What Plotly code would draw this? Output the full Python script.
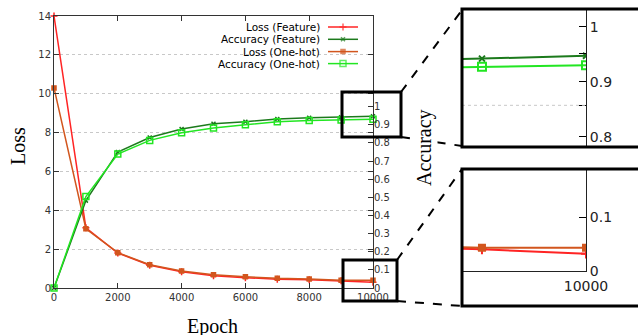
import plotly.graph_objects as go

epochs = [0, 1000, 2000, 3000, 4000, 5000, 6000, 7000, 8000, 9000, 10000]
loss_feature = [14.0, 3.1, 1.8, 1.17, 0.84, 0.63, 0.53, 0.45, 0.42, 0.375, 0.30]
loss_onehot = [10.3, 3.05, 1.82, 1.2, 0.87, 0.68, 0.58, 0.50, 0.46, 0.40, 0.40]
acc_feature = [0.0, 0.482, 0.75, 0.83, 0.877, 0.906, 0.917, 0.932, 0.939, 0.942, 0.947]
acc_onehot = [0.0, 0.504, 0.739, 0.814, 0.856, 0.882, 0.900, 0.917, 0.924, 0.927, 0.930]
series_names = ["Loss (Feature)", "Accuracy (Feature)", "Loss (One-hot)", "Accuracy (One-hot)"]
x_ticks = [0, 2000, 4000, 6000, 8000, 10000]
acc_ticks = [0.0, 0.1, 0.2, 0.3, 0.4, 0.5, 0.6, 0.7, 0.8, 0.9, 1.0]

W, H = 638, 335
RED, DGREEN, ORANGE, LGREEN = "#ff2424", "#1c7a1c", "#d2561e", "#22e622"
AX = "#333333"
TICKFONT = dict(family="DejaVu Sans", size=10, color="#333333")
INSETFONT = dict(family="DejaVu Sans", size=14, color="#222222")
SERIF = dict(family="Liberation Serif", size=20, color="black")


def px(x):
    return x / W


def py(y):
    return 1 - y / H


styles = [
    dict(color=RED, symbol="cross-thin", size=5, lw=1.5),
    dict(color=DGREEN, symbol="x-thin", size=4, lw=1.5),
    dict(color=ORANGE, symbol="square", size=4, lw=1.5),
    dict(color=LGREEN, symbol="square-open", size=6, lw=1.5),
]
data_sets = [loss_feature, acc_feature, loss_onehot, acc_onehot]
main_axes = [("x", "y"), ("x", "y2"), ("x", "y"), ("x", "y2")]

fig = go.Figure()

# main chart
for name, vals, st, (xa, ya) in zip(series_names, data_sets, styles, main_axes):
    fig.add_trace(go.Scatter(
        x=epochs, y=vals, name=name, xaxis=xa, yaxis=ya, mode="lines+markers",
        line=dict(color=st["color"], width=st["lw"]),
        marker=dict(symbol=st["symbol"], size=st["size"], color=st["color"],
                    line=dict(color=st["color"], width=1.5)),
        showlegend=False, cliponaxis=False))

# inset 1 (accuracy zoom)
for name, vals, st in [(series_names[1], acc_feature, styles[1]), (series_names[3], acc_onehot, styles[3])]:
    fig.add_trace(go.Scatter(
        x=epochs, y=vals, xaxis="x3", yaxis="y3", mode="lines+markers",
        line=dict(color=st["color"], width=2),
        marker=dict(symbol=st["symbol"], size=st["size"] + 2, color=st["color"],
                    line=dict(color=st["color"], width=2)),
        showlegend=False, cliponaxis=True))

# inset 2 (loss zoom)
for name, vals, st in [(series_names[0], loss_feature, styles[0]), (series_names[2], loss_onehot, styles[2])]:
    fig.add_trace(go.Scatter(
        x=epochs, y=vals, xaxis="x4", yaxis="y4", mode="lines+markers",
        line=dict(color=st["color"], width=2),
        marker=dict(symbol=st["symbol"], size=st["size"] + 2, color=st["color"],
                    line=dict(color=st["color"], width=2)),
        showlegend=False, cliponaxis=True))

# custom gnuplot-style legend (text then sample)
rows = [27, 39.3, 51.6, 63.6]
for name, st, ry in zip(series_names, styles, rows):
    fig.add_trace(go.Scatter(
        x=[328, 343, 358], y=[ry, ry, ry], xaxis="x5", yaxis="y5", mode="lines+markers",
        line=dict(color=st["color"], width=st["lw"]),
        marker=dict(symbol=st["symbol"], size=[0, st["size"], 0], color=st["color"],
                    line=dict(color=st["color"], width=1.5)),
        showlegend=False, hoverinfo="skip"))
    fig.add_annotation(x=px(322), y=py(ry), xref="paper", yref="paper", text=name,
                       showarrow=False, xanchor="right", yanchor="middle",
                       font=dict(family="DejaVu Sans", size=10.5, color="black"))

common = dict(showgrid=False, zeroline=False, automargin=False)
fig.update_layout(
    width=W, height=H, margin=dict(l=0, r=0, t=0, b=0, autoexpand=False),
    paper_bgcolor="white", plot_bgcolor="rgba(0,0,0,0)", showlegend=False,
    xaxis=dict(domain=[px(54), px(373)], range=[0, 10000], anchor="y", tickvals=x_ticks,
               tickformat="d", ticks="inside", ticklen=5, tickcolor=AX, showline=True, linecolor=AX,
               mirror="ticks", tickfont=TICKFONT, **common),
    yaxis=dict(domain=[py(288), py(16)], range=[0, 14], dtick=2, anchor="x",
               ticks="inside", ticklen=5, tickcolor=AX, showline=True, linecolor=AX,
               mirror="ticks", tickfont=TICKFONT, showgrid=True, gridcolor="#c8c8c8",
               griddash="dot", zeroline=False, automargin=False),
    yaxis2=dict(overlaying="y", side="right", range=[0, 1.5], anchor="x", tickvals=acc_ticks,
                ticks="inside", ticklen=5, tickcolor=AX, showline=False,
                tickfont=TICKFONT, **common),
    xaxis3=dict(domain=[px(462), px(586)], range=[8808, 10000], anchor="y3", visible=False,
                automargin=False),
    yaxis3=dict(domain=[py(146.7), py(9.3)], range=[0.782, 1.0315], anchor="x3", side="right",
                tickvals=[0.8, 0.857, 0.9, 0.952, 1.0], ticktext=["0.8", "", "0.9", "", "1"],
                ticks="inside", ticklen=7, tickcolor="black", showline=True, linecolor="#222",
                tickfont=INSETFONT, **common),
    xaxis4=dict(domain=[px(462), px(586)], range=[8808, 10000], anchor="y4", tickvals=[10000],
                tickformat="d", ticks="", showline=True, linecolor="#222", tickfont=INSETFONT,
                ticklabelstandoff=2, **common),
    yaxis4=dict(domain=[py(271), py(169)], range=[0, 1.763], anchor="x4", side="right",
                tickvals=[0, 0.9333], ticktext=["0", "0.1"], ticks="inside", ticklen=7,
                tickcolor="black", showline=True, linecolor="#222", tickfont=INSETFONT, **common),
    xaxis5=dict(domain=[0, 1], range=[0, W], anchor="y5", visible=False, fixedrange=True,
                automargin=False),
    yaxis5=dict(domain=[0, 1], range=[H, 0], anchor="x5", visible=False, fixedrange=True,
                automargin=False),
)

# inset 1 dotted grid line (left-axis value 8 in accuracy units)
fig.add_shape(type="line", xref="x3 domain", yref="y3", x0=0, x1=1, y0=8 * 1.5 / 14, y1=8 * 1.5 / 14,
              line=dict(color="#c8c8c8", width=1, dash="dot"))

# zoom boxes, inset frames, connectors
def rect(x0, y0, x1, y1):
    fig.add_shape(type="rect", xref="paper", yref="paper", x0=px(x0), x1=px(x1), y0=py(y0), y1=py(y1),
                  line=dict(color="black", width=3), fillcolor="rgba(0,0,0,0)")


def dline(x0, y0, x1, y1):
    fig.add_shape(type="line", xref="paper", yref="paper", x0=px(x0), x1=px(x1), y0=py(y0), y1=py(y1),
                  line=dict(color="black", width=2, dash="dash"))


rect(342, 92, 401, 137)
rect(343, 260, 397, 301)
rect(462, 9, 650, 147)
rect(462, 169, 650, 306)
dline(401, 92, 462, 10)
dline(401, 137, 462, 146)
dline(397, 260, 462, 169)
dline(397, 301, 462, 306)

fig.add_annotation(x=px(18), y=py(146), xref="paper", yref="paper", text="Loss", textangle=-90,
                   showarrow=False, font=SERIF, xanchor="center", yanchor="middle")
fig.add_annotation(x=px(212), y=py(326), xref="paper", yref="paper", text="Epoch",
                   showarrow=False, font=SERIF, xanchor="center", yanchor="middle")
fig.add_annotation(x=px(424), y=py(148), xref="paper", yref="paper", text="Accuracy", textangle=-90,
                   showarrow=False, font=SERIF, bgcolor="white", xanchor="center", yanchor="middle")

fig.write_html("out.html", config={"displayModeBar": False},
               post_script="document.body.style.margin='0';document.body.style.overflow='hidden';")
